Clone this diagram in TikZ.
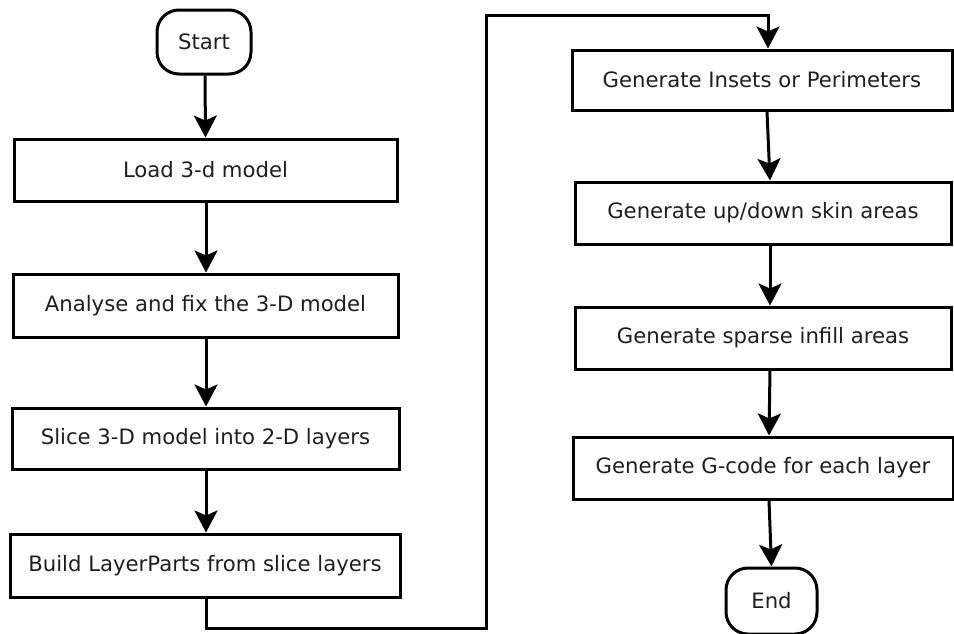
\documentclass[tikz,border=0pt]{standalone}
\usepackage{fontspec}
\setmainfont{DejaVu Sans}
\usetikzlibrary{arrows.meta,calc}
\begin{document}
\begin{tikzpicture}[x=1pt,y=-1pt,
  every node/.style={font=\fontsize{21.2}{25}\selectfont, text=black!88},
  procbox/.style={draw=black, line width=3pt, fill=white, inner sep=0pt},
  termbox/.style={draw=black, line width=3pt, fill=white, rounded corners=22pt, inner sep=0pt},
  flow/.style={draw=black, line width=3pt, -{Stealth[length=22pt,width=23pt,inset=5pt]}},
  plainline/.style={draw=black, line width=3pt}]
\useasboundingbox (0,0) rectangle (954,633);
% left column
\node[termbox, minimum width=94pt, minimum height=64pt] (start) at (204,42) {Start};
\node[procbox, minimum width=383pt, minimum height=62pt] (load) at (205.5,170) {Load 3-d model};
\node[procbox, minimum width=385pt, minimum height=63pt] (fix) at (205.5,305.5) {Analyse and fix the 3-D model};
\node[procbox, minimum width=387pt, minimum height=61pt] (slice) at (205.5,438.5) {Slice 3-D model into 2-D layers};
\node[procbox, minimum width=390pt, minimum height=63pt] (build) at (205,565.5) {Build LayerParts from slice layers};
% right column
\node[procbox, minimum width=380pt, minimum height=60pt] (insets) at (762,80) {Generate Insets or Perimeters};
\node[procbox, minimum width=376pt, minimum height=62pt] (skin) at (763,213) {Generate up/down skin areas};
\node[procbox, minimum width=376pt, minimum height=62pt] (sparse) at (763,338) {Generate sparse infill areas};
\node[procbox, minimum width=380pt, minimum height=62pt] (gcode) at (763,468) {Generate G-code for each layer};
\node[termbox, minimum width=91pt, minimum height=66pt] (end) at (771.5,601) {End};
% connectors left
\draw[flow] ($(start.south)+(1,0)$) -- ($(load.north)+(0,0)$);
\draw[flow] ($(load.south)+(0.5,0)$) -- ($(fix.north)+(0.5,0)$);
\draw[flow] ($(fix.south)+(0.5,0)$) -- ($(slice.north)+(0.5,0)$);
\draw[flow] ($(slice.south)+(0.5,0)$) -- ($(build.north)+(1,0)$);
% loop connector
\coordinate (c1) at (206,628);
\coordinate (c2) at (486,628);
\coordinate (c3) at (486,15);
\coordinate (c4) at (768,15);
\draw[flow] ($(build.south)+(1,0)$) -- (c1) -- (c2) -- (c3) -- (c4) -- ($(insets.north)+(6,0)$);
% connectors right
\draw[flow] ($(insets.south)+(5,0)$) -- ($(skin.north)+(7,0)$);
\draw[flow] ($(skin.south)+(7,0)$) -- ($(sparse.north)+(7,0)$);
\draw[flow] ($(sparse.south)+(7,0)$) -- ($(gcode.north)+(6,0)$);
\draw[flow] ($(gcode.south)+(6,0)$) -- (end.north);
\end{tikzpicture}
\end{document}
